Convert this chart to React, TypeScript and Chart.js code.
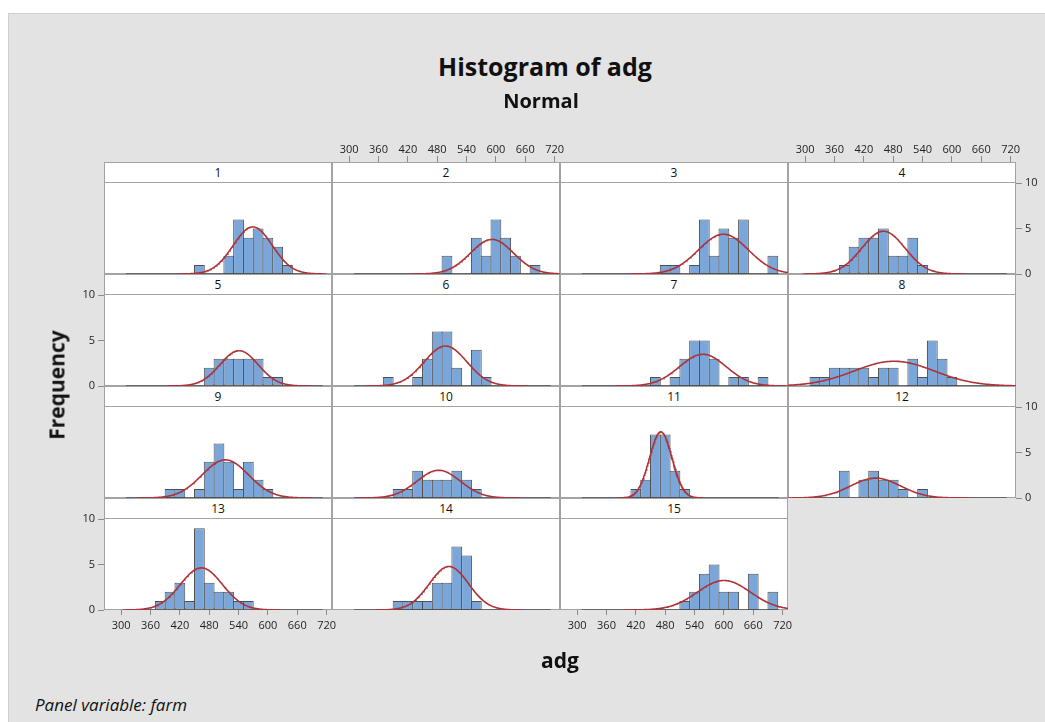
import React, { useEffect, useRef } from 'react';
import { Chart, registerables } from 'chart.js';

Chart.register(...registerables);

// ---------- data ----------
const binMids = [320, 340, 360, 380, 400, 420, 440, 460, 480, 500, 520, 540, 560, 580, 600, 620, 640, 660, 680, 700];
const farmLabels = ['1', '2', '3', '4', '5', '6', '7', '8', '9', '10', '11', '12', '13', '14', '15'];

const farm1 = [0, 0, 0, 0, 0, 0, 0, 1, 0, 0, 2, 6, 4, 5, 4, 3, 1, 0, 0, 0];
const farm2 = [0, 0, 0, 0, 0, 0, 0, 0, 0, 2, 0, 0, 4, 2, 6, 4, 2, 0, 1, 0];
const farm3 = [0, 0, 0, 0, 0, 0, 0, 0, 1, 1, 0, 1, 6, 2, 5, 4, 6, 0, 0, 2];
const farm4 = [0, 0, 0, 1, 3, 4, 4, 5, 2, 2, 4, 1, 0, 0, 0, 0, 0, 0, 0, 0];
const farm5 = [0, 0, 0, 0, 0, 0, 0, 0, 2, 3, 3, 3, 3, 3, 1, 1, 0, 0, 0, 0];
const farm6 = [0, 0, 0, 1, 0, 0, 1, 3, 6, 6, 2, 0, 4, 1, 0, 0, 0, 0, 0, 0];
const farm7 = [0, 0, 0, 0, 0, 0, 0, 1, 0, 1, 3, 5, 5, 3, 0, 1, 1, 0, 1, 0];
const farm8 = [1, 1, 2, 2, 2, 2, 1, 2, 2, 0, 3, 1, 5, 3, 1, 0, 0, 0, 0, 0];
const farm9 = [0, 0, 0, 0, 1, 1, 0, 1, 4, 6, 4, 1, 4, 2, 1, 0, 0, 0, 0, 0];
const farm10 = [0, 0, 0, 0, 1, 1, 3, 2, 2, 2, 3, 2, 1, 0, 0, 0, 0, 0, 0, 0];
const farm11 = [0, 0, 0, 0, 0, 1, 2, 7, 7, 3, 1, 0, 0, 0, 0, 0, 0, 0, 0, 0];
const farm12 = [0, 0, 0, 3, 0, 2, 3, 2, 2, 1, 0, 1, 0, 0, 0, 0, 0, 0, 0, 0];
const farm13 = [0, 0, 0, 1, 2, 3, 1, 9, 3, 2, 2, 1, 1, 0, 0, 0, 0, 0, 0, 0];
const farm14 = [0, 0, 0, 0, 1, 1, 1, 1, 3, 3, 7, 6, 1, 0, 0, 0, 0, 0, 0, 0];
const farm15 = [0, 0, 0, 0, 0, 0, 0, 0, 0, 0, 1, 2, 4, 5, 2, 2, 0, 4, 0, 2];
const farmCounts = [farm1, farm2, farm3, farm4, farm5, farm6, farm7, farm8, farm9, farm10, farm11, farm12, farm13, farm14, farm15];

// fitted normal parameters per farm
const fitMeans = [569, 592, 599, 460, 541, 497, 557, 482, 513, 483, 471, 444, 464, 504, 600];
const fitSDs = [40, 44, 51, 44, 39, 43.5, 48, 82, 47.5, 44.5, 23, 51, 43, 40, 54];

const xTicks = [300, 360, 420, 480, 540, 600, 660, 720];
const yTicks = [0, 5, 10];
const baselineRange = [310, 712];
const BIN_WIDTH = 20;

// ---------- layout / style ----------
const FONT = "'Open Sans', 'Noto Sans', 'DejaVu Sans', sans-serif";
const GRID_LEFT = 104;
const GRID_TOP = 162;
const COL_W = 228;
const ROW_H = 112;
const STRIP_H = 20;
const PLOT_H = 92;
const M = 12;
const AX_TOP = 50;
const AX_BOTTOM = 32;
const AX_SIDE = 32;
const X_MIN = 265;
const X_MAX = 731;
const Y_MAX = 10.13;

const BAR = '#7BA6DA';
const BAR_EDGE = '#505050';
const CURVE = '#AE3338';
const BASE = '#505050';
const FRAME = '#A3A3A3';
const TICK = '#8A8A8A';
const TXT = '#1E1E1E';

function Panel({ index }: { index: number }) {
  const ref = useRef<HTMLCanvasElement>(null);
  const col = index % 4;
  const row = Math.floor(index / 4);
  const xPos: 'top' | 'bottom' | null = index === 1 || index === 3 ? 'top' : index === 12 || index === 14 ? 'bottom' : null;
  const yPos: 'left' | 'right' | null = index === 4 || index === 12 ? 'left' : index === 3 || index === 11 ? 'right' : null;
  const plotLeft = GRID_LEFT + col * COL_W;
  const stripTop = GRID_TOP + row * ROW_H;
  const plotTop = stripTop + STRIP_H;
  const padL = M + (yPos === 'left' ? AX_SIDE : 0);
  const padR = M + (yPos === 'right' ? AX_SIDE : 0);
  const padT = M + (xPos === 'top' ? AX_TOP : 0);
  const padB = M + (xPos === 'bottom' ? AX_BOTTOM : 0);
  const cw = COL_W + padL + padR;
  const ch = PLOT_H + padT + padB;

  useEffect(() => {
    const counts = farmCounts[index];
    const n = counts.reduce((a, b) => a + b, 0);
    const mean = fitMeans[index];
    const sd = fitSDs[index];
    const lo = Math.max(X_MIN - 5, mean - 3.75 * sd);
    const hi = Math.min(X_MAX + 5, mean + 3.75 * sd);
    const peak = (n * BIN_WIDTH) / (sd * Math.sqrt(2 * Math.PI));
    const curve: { x: number; y: number }[] = [];
    const N = 200;
    for (let i = 0; i <= N; i++) {
      const x = lo + ((hi - lo) * i) / N;
      curve.push({ x, y: peak * Math.exp(-0.5 * ((x - mean) / sd) ** 2) });
    }
    const tickFont = { family: FONT, size: 11 };
    const chart = new Chart(ref.current as HTMLCanvasElement, {
      type: 'bar',
      data: {
        datasets: [
          {
            type: 'line',
            data: curve,
            borderColor: CURVE,
            borderWidth: 1.6,
            pointRadius: 0,
            fill: false,
            order: 0,
          } as any,
          {
            type: 'bar',
            data: binMids.map((x, i) => ({ x, y: counts[i] || null })),
            backgroundColor: BAR,
            borderColor: BAR_EDGE,
            borderWidth: 1,
            borderSkipped: false,
            barPercentage: 1.1,
            categoryPercentage: 1,
            inflateAmount: 0,
            order: 1,
          } as any,
          {
            type: 'line',
            data: baselineRange.map((x) => ({ x, y: 0 })),
            borderColor: BASE,
            borderWidth: 1.3,
            pointRadius: 0,
            fill: false,
            order: 2,
          } as any,
        ],
      },
      options: {
        responsive: false,
        animation: false,
        devicePixelRatio: 1,
        events: [],
        layout: { padding: { left: M, right: M, top: M, bottom: M } },
        plugins: { legend: { display: false }, tooltip: { enabled: false }, title: { display: false } },
        scales: {
          x: {
            type: 'linear',
            min: X_MIN,
            max: X_MAX,
            offset: false,
            display: !!xPos,
            position: xPos || 'bottom',
            afterFit: (s: any) => {
              s.height = xPos === 'top' ? AX_TOP : xPos === 'bottom' ? AX_BOTTOM : 0;
            },
            afterBuildTicks: (s: any) => {
              s.ticks = xTicks.map((v) => ({ value: v }));
            },
            ticks: {
              autoSkip: false,
              maxRotation: 0,
              minRotation: 0,
              padding: xPos === 'top' ? 0 : 4,
              color: TXT,
              font: tickFont,
            },
            grid: {
              offset: false,
              drawOnChartArea: false,
              drawTicks: true,
              tickLength: xPos === 'top' ? 26 : 5,
              color: TICK,
              lineWidth: 1,
            },
            border: { display: false },
          },
          y: {
            type: 'linear',
            min: 0,
            max: Y_MAX,
            display: !!yPos,
            position: yPos || 'left',
            afterFit: (s: any) => {
              s.width = yPos ? AX_SIDE : 0;
            },
            afterBuildTicks: (s: any) => {
              s.ticks = yTicks.map((v) => ({ value: v }));
            },
            ticks: { padding: 3, color: TXT, font: tickFont },
            grid: { drawOnChartArea: false, drawTicks: true, tickLength: 6, color: TICK, lineWidth: 1 },
            border: { display: false },
          },
        },
      } as any,
    });
    return () => chart.destroy();
  }, []);

  return (
    <>
      <div
        style={{
          position: 'absolute',
          left: plotLeft,
          top: plotTop,
          width: COL_W,
          height: PLOT_H,
          boxSizing: 'border-box',
          border: `1px solid ${FRAME}`,
          background: '#ffffff',
          zIndex: 0,
        }}
      />
      <canvas
        ref={ref}
        width={cw}
        height={ch}
        style={{ position: 'absolute', left: plotLeft - padL, top: plotTop - padT, width: cw, height: ch, zIndex: 1 }}
      />
      <div
        style={{
          position: 'absolute',
          left: plotLeft,
          top: stripTop,
          width: COL_W,
          height: STRIP_H + 1,
          boxSizing: 'border-box',
          border: `1px solid ${FRAME}`,
          background: '#ffffff',
          zIndex: 2,
          fontFamily: FONT,
          fontSize: 12,
          color: '#111',
          textAlign: 'center',
          lineHeight: `${STRIP_H - 1}px`,
        }}
      >
        {farmLabels[index]}
      </div>
    </>
  );
}

export default function App() {
  const text = (extra: React.CSSProperties): React.CSSProperties => ({
    position: 'absolute',
    fontFamily: FONT,
    color: '#111',
    whiteSpace: 'nowrap',
    lineHeight: 1,
    zIndex: 3,
    ...extra,
  });
  return (
    <div style={{ position: 'fixed', left: 0, top: 0, width: 1045, height: 722, background: '#ffffff', overflow: 'hidden' }}>
      <div
        style={{
          position: 'absolute',
          left: 8,
          top: 13,
          right: 0,
          bottom: 0,
          background: '#e3e3e3',
          borderLeft: '1px solid #cfcfcf',
          borderTop: '1px solid #cfcfcf',
        }}
      />
      <div style={text({ left: 545, top: 66, transform: 'translate(-50%, -50%)', fontSize: 25, fontWeight: 700 })}>
        Histogram of adg
      </div>
      <div style={text({ left: 541, top: 101, transform: 'translate(-50%, -50%)', fontSize: 20, fontWeight: 700 })}>
        Normal
      </div>
      <div style={text({ left: 560, top: 660, transform: 'translate(-50%, -50%)', fontSize: 21, fontWeight: 700 })}>
        adg
      </div>
      <div
        style={text({ left: 57, top: 385, transform: 'translate(-50%, -50%) rotate(-90deg)', fontSize: 21, fontWeight: 700 })}
      >
        Frequency
      </div>
      <div style={text({ left: 35, top: 704, transform: 'translateY(-50%)', fontSize: 17, fontStyle: 'italic' })}>
        Panel variable: farm
      </div>
      {farmCounts.map((_, i) => (
        <Panel key={i} index={i} />
      ))}
    </div>
  );
}
